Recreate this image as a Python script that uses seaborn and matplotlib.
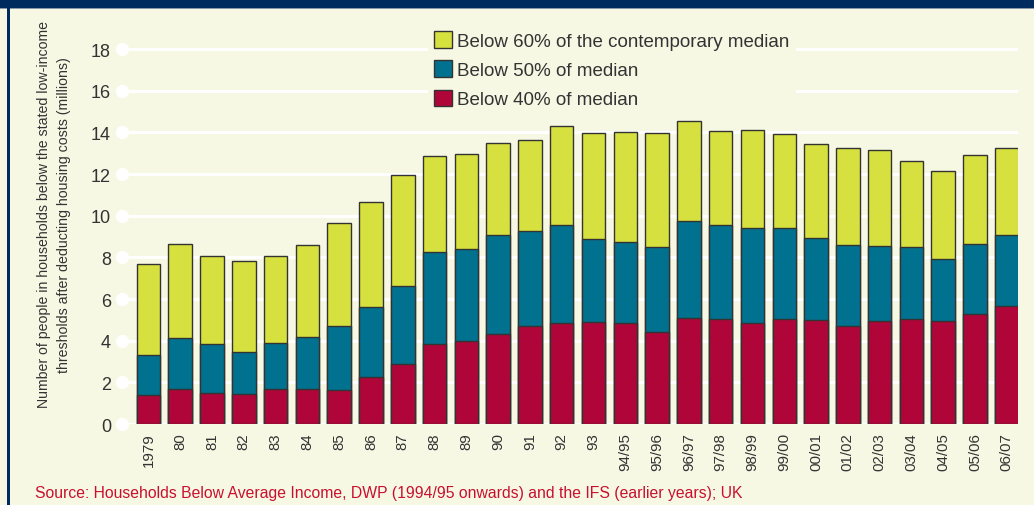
import matplotlib
matplotlib.use("Agg")
import matplotlib.pyplot as plt
import seaborn as sns
from matplotlib.patches import Rectangle, Patch

years = ["1979", "80", "81", "82", "83", "84", "85", "86", "87", "88", "89", "90",
         "91", "92", "93", "94/95", "95/96", "96/97", "97/98", "98/99", "99/00",
         "00/01", "01/02", "02/03", "03/04", "04/05", "05/06", "06/07"]
below60 = [7.67, 8.66, 8.05, 7.84, 8.07, 8.59, 9.66, 10.67, 11.94, 12.87, 12.94, 13.50,
           13.65, 14.31, 13.95, 14.00, 13.95, 14.53, 14.08, 14.11, 13.92,
           13.46, 13.27, 13.17, 12.64, 12.13, 12.90, 13.27]
below50 = [3.33, 4.11, 3.84, 3.47, 3.90, 4.19, 4.69, 5.60, 6.62, 8.27, 8.40, 9.09,
           9.28, 9.54, 8.88, 8.75, 8.50, 9.73, 9.56, 9.42, 9.41,
           8.93, 8.58, 8.56, 8.48, 7.94, 8.64, 9.07]
below40 = [1.39, 1.68, 1.50, 1.46, 1.68, 1.68, 1.63, 2.24, 2.86, 3.84, 4.00, 4.30,
           4.70, 4.83, 4.91, 4.83, 4.42, 5.09, 5.02, 4.86, 5.02,
           4.98, 4.70, 4.93, 5.04, 4.93, 5.27, 5.66]

series_labels = ["Below 60% of the contemporary median", "Below 50% of median",
                 "Below 40% of median"]
colors = ["#d6e03f", "#00718f", "#b00538"]

bg = "#f7f8e4"
navy = "#002b5f"
edge = "#333333"

sns.set_style("white")
plt.rcParams["font.family"] = ["Liberation Sans", "DejaVu Sans"]

fig = plt.figure(figsize=(10.34, 5.06), dpi=100, facecolor=bg)
ax = fig.add_axes([0.118, 0.160, 0.8665, 0.7617])
ax.set_facecolor(bg)

# nested thresholds, drawn over each other
for vals, c in zip([below60, below50, below40], colors):
    sns.barplot(x=years, y=vals, color=c, edgecolor=edge, linewidth=1.0,
                width=0.74, saturation=1, ax=ax, zorder=3)

ax.set_xlim(-0.83, 27.35)
ax.set_ylim(0, 18.5)
ax.set_yticks(range(0, 19, 2))
ax.grid(axis="y", color="white", linewidth=2.2, zorder=0)
ax.grid(axis="x", visible=False)
for s in ax.spines.values():
    s.set_visible(False)

# white dots at the start of each gridline
ax.plot([-0.83] * 10, list(range(0, 19, 2)), "o", color="white", markersize=8.5,
        clip_on=False, zorder=4)

ax.tick_params(axis="y", length=0, pad=8, labelsize=13, labelcolor="#333333")
ax.tick_params(axis="x", length=0, pad=6, labelsize=10.8, labelcolor="#333333",
               rotation=90)
ax.set_xlabel("")
ax.set_ylabel("Number of people in households below the stated low-income\n"
              "thresholds after deducting housing costs (millions)",
              fontsize=10.2, color="#333333", linespacing=1.5)
ax.yaxis.set_label_coords(-0.057, 0.545)

handles = [Patch(facecolor=c, edgecolor=edge, linewidth=1.0) for c in colors]
leg = ax.legend(handles, series_labels, loc="upper left", bbox_to_anchor=(0.331, 1.058),
                frameon=True, fontsize=13.5, handlelength=1.0, handleheight=1.0,
                handletextpad=0.25, labelspacing=0.55, borderpad=0.3)
leg.get_frame().set_facecolor(bg)
leg.get_frame().set_edgecolor(bg)
leg.get_frame().set_alpha(1)
for t in leg.get_texts():
    t.set_color("#333333")

fig.text(0.034, 0.016, "Source: Households Below Average Income, DWP (1994/95 onwards) "
         "and the IFS (earlier years); UK", fontsize=11.3, color="#c8102e")

# frame: navy top band and left rule
fig.patches.append(Rectangle((0, 1 - 9 / 506), 1, 9 / 506, transform=fig.transFigure,
                             facecolor=navy, edgecolor="none"))
fig.patches.append(Rectangle((0, 1 - 10 / 506), 1, 1 / 506, transform=fig.transFigure,
                             facecolor="#8a9aa8", edgecolor="none"))
fig.patches.append(Rectangle((7 / 1034, 0), 3 / 1034, 1, transform=fig.transFigure,
                             facecolor=navy, edgecolor="none"))

fig.savefig("out.png", dpi=100, facecolor=bg)
